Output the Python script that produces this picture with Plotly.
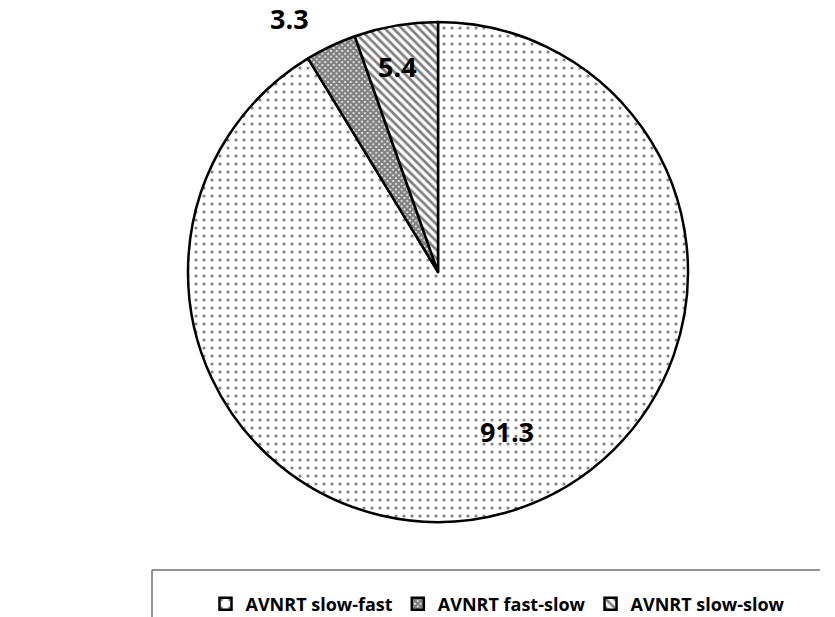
import math
import plotly.graph_objects as go

# Share of AVNRT subtypes (%)
labels = ["AVNRT slow-fast", "AVNRT fast-slow", "AVNRT slow-slow"]
values = [91.3, 3.3, 5.4]

# Slice fill patterns
pattern_shapes = [".", "x", "\\"]
pattern_sizes = [8, 4, 6]
pattern_solidity = [0.12, 0.8, 0.45]

# Value label placement: fraction of radius and angular shift (deg) from slice middle
label_radius = [0.77, 1.29, 0.92]
label_shift = [-5.5, -6.5, -0.3]

W, H = 835, 617
M_L, M_R, M_T, M_B = 41, 0, 22, 95
plot_w = W - M_L - M_R
plot_h = H - M_T - M_B
R_PX = min(plot_w, plot_h) / 2
FONT = "Open Sans"


def px_to_paper(x, y):
    return (x - M_L) / plot_w, 1 - (y - M_T) / plot_h


fig = go.Figure(
    go.Pie(
        labels=labels,
        values=values,
        sort=False,
        direction="clockwise",
        rotation=0,
        textinfo="none",
        marker=dict(
            colors=["white", "white", "white"],
            line=dict(color="black", width=2.5),
            pattern=dict(
                shape=pattern_shapes,
                size=pattern_sizes,
                solidity=pattern_solidity,
                fgcolor="black",
                bgcolor="white",
                fillmode="overlay",
            ),
        ),
        hoverinfo="skip",
    )
)

# Value labels, placed along each slice's angle
total = sum(values)
start = 0.0
annotations = []
for v, rf, shift in zip(values, label_radius, label_shift):
    sweep = 360.0 * v / total
    mid = math.radians(start + sweep / 2 + shift)
    start += sweep
    dx = math.sin(mid) * R_PX * rf
    dy = math.cos(mid) * R_PX * rf
    annotations.append(
        dict(
            x=0.5 + dx / plot_w,
            y=0.5 + dy / plot_h,
            xref="paper",
            yref="paper",
            text=f"{v:.1f}",
            showarrow=False,
            font=dict(family=FONT, size=27, color="black", weight="bold"),
        )
    )

lx0, ly0 = px_to_paper(152, 570)
lx1, ly1 = px_to_paper(820, H + 10)

fig.update_layout(
    width=W,
    height=H,
    margin=dict(l=M_L, r=M_R, t=M_T, b=M_B, autoexpand=False),
    paper_bgcolor="white",
    plot_bgcolor="white",
    showlegend=True,
    legend=dict(
        orientation="h",
        xref="container",
        yref="container",
        x=498 / W,
        xanchor="center",
        y=1 - 604 / H,
        yanchor="middle",
        font=dict(family=FONT, size=18, color="black", weight="bold"),
        itemwidth=30,
        traceorder="normal",
    ),
    annotations=annotations,
    shapes=[
        dict(type="line", xref="paper", yref="paper",
             x0=lx0, y0=ly0, x1=lx1, y1=ly0,
             line=dict(color="#6f6f6f", width=1.5)),
        dict(type="line", xref="paper", yref="paper",
             x0=lx0, y0=ly0, x1=lx0, y1=ly1,
             line=dict(color="#6f6f6f", width=1.5)),
    ],
)

fig.write_html("out.html")
